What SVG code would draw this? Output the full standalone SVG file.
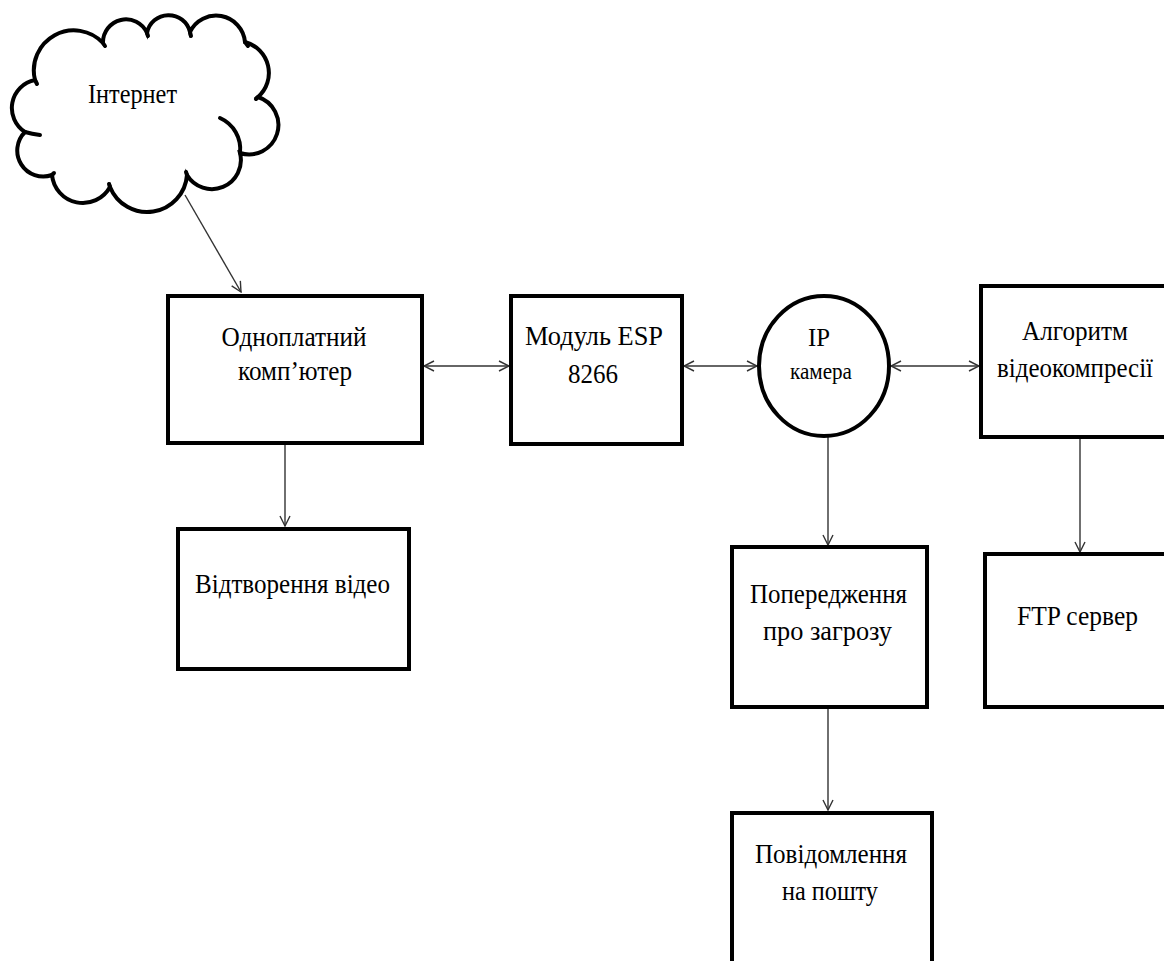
<svg xmlns="http://www.w3.org/2000/svg" width="1164" height="961" viewBox="0 0 1164 961">
  <style>
    .box { fill: #fff; stroke: #000; stroke-width: 4; }
    .cloud { fill: #fff; stroke: #000; stroke-width: 4; stroke-linecap: round; }
    .hook { fill: none; stroke: #000; stroke-width: 4; stroke-linecap: round; }
    .link { fill: none; stroke: #333; stroke-width: 1.4; }
    .lbl { font-family: "Liberation Serif", "Times New Roman", serif; font-size: 28px; fill: #000; text-anchor: middle; }
    .sm { font-size: 24px; }
  </style>
  <defs>
    <marker id="arrowEnd" viewBox="0 0 12 12" refX="11" refY="6" markerWidth="12" markerHeight="12" markerUnits="userSpaceOnUse" orient="auto">
      <path d="M1,1 L11,6 L1,11" fill="none" stroke="#333" stroke-width="1.4"/>
    </marker>
    <marker id="arrowStart" viewBox="0 0 12 12" refX="1" refY="6" markerWidth="12" markerHeight="12" markerUnits="userSpaceOnUse" orient="auto">
      <path d="M11,1 L1,6 L11,11" fill="none" stroke="#333" stroke-width="1.4"/>
    </marker>
  </defs>

  <rect width="1164" height="961" fill="#fff"/>

  <!-- connectors -->
  <g id="connectors">
    <line class="link" x1="185" y1="195" x2="241" y2="292" marker-end="url(#arrowEnd)"/>
    <line class="link" x1="424" y1="366" x2="509" y2="366" marker-start="url(#arrowStart)" marker-end="url(#arrowEnd)"/>
    <line class="link" x1="684" y1="366" x2="757" y2="366" marker-start="url(#arrowStart)" marker-end="url(#arrowEnd)"/>
    <line class="link" x1="891" y1="366" x2="979" y2="366" marker-start="url(#arrowStart)" marker-end="url(#arrowEnd)"/>
    <line class="link" x1="285" y1="445" x2="285" y2="526" marker-end="url(#arrowEnd)"/>
    <line class="link" x1="828" y1="437" x2="828" y2="545" marker-end="url(#arrowEnd)"/>
    <line class="link" x1="1080" y1="439" x2="1080" y2="552" marker-end="url(#arrowEnd)"/>
    <line class="link" x1="828" y1="709" x2="828" y2="810" marker-end="url(#arrowEnd)"/>
  </g>

  <!-- cloud -->
  <g id="internet">
    <path class="cloud" d="M35,80 A40,40 0 0 1 103,43 A23,23 0 0 1 147,33 A22,22 0 0 1 190,32 A29,29 0 0 1 245,42 A32,32 0 0 1 258,97 A29,29 0 0 1 240,153 A29,29 0 0 1 187,175 A40,40 0 0 1 110,187 A31,31 0 0 1 52,175 A26,26 0 0 1 25,132 A28.5,28.5 0 0 1 35,80 Z"/>
    <path class="hook" d="M220,118 A34,34 0 0 1 240,153"/>
    <path class="hook" d="M25,132 Q32,134 40,135"/>
    <path class="hook" d="M35,80 L37,84"/>
    <path class="hook" d="M103,43 L105,46"/>
    <path class="hook" d="M147,33 L148,36"/>
    <path class="hook" d="M190,32 L191,36"/>
    <path class="hook" d="M245,42 L248,46"/>
    <path class="hook" d="M258,97 L256,99"/>
    <path class="hook" d="M187,175 L186,172"/>
    <path class="hook" d="M110,187 L109,184"/>
    <path class="hook" d="M52,175 L54,173"/>
    <text class="lbl" x="132.5" y="103" textLength="89" lengthAdjust="spacingAndGlyphs">Інтернет</text>
  </g>

  <g id="sbc">
    <rect class="box" x="168" y="296" width="254" height="147"/>
    <text class="lbl" x="294" y="346" textLength="145" lengthAdjust="spacingAndGlyphs">Одноплатний</text>
    <text class="lbl" x="295" y="380" textLength="114" lengthAdjust="spacingAndGlyphs">комп’ютер</text>
  </g>

  <g id="esp">
    <rect class="box" x="511" y="296" width="171" height="148"/>
    <text class="lbl" x="594" y="345" textLength="138" lengthAdjust="spacingAndGlyphs">Модуль ESP</text>
    <text class="lbl" x="593" y="383" textLength="50" lengthAdjust="spacingAndGlyphs">8266</text>
  </g>

  <g id="camera">
    <ellipse class="box" cx="824" cy="366" rx="65" ry="70"/>
    <text class="lbl" x="819" y="346" style="font-size:26px" textLength="22" lengthAdjust="spacingAndGlyphs">IP</text>
    <text class="lbl sm" x="821" y="379" textLength="62" lengthAdjust="spacingAndGlyphs">камера</text>
  </g>

  <g id="compression">
    <rect class="box" x="981" y="286" width="200" height="151"/>
    <text class="lbl" x="1075" y="340" textLength="106" lengthAdjust="spacingAndGlyphs">Алгоритм</text>
    <text class="lbl" x="1075" y="377" textLength="156" lengthAdjust="spacingAndGlyphs">відеокомпресії</text>
  </g>

  <g id="playback">
    <rect class="box" x="178" y="529" width="231" height="140"/>
    <text class="lbl" x="292.5" y="593" textLength="195" lengthAdjust="spacingAndGlyphs">Відтворення відео</text>
  </g>

  <g id="warning">
    <rect class="box" x="732" y="547" width="195" height="160"/>
    <text class="lbl" x="828.5" y="603" textLength="157" lengthAdjust="spacingAndGlyphs">Попередження</text>
    <text class="lbl" x="827.5" y="640" textLength="129" lengthAdjust="spacingAndGlyphs">про загрозу</text>
  </g>

  <g id="ftp">
    <rect class="box" x="985" y="554" width="200" height="153"/>
    <text class="lbl" x="1077.5" y="625" textLength="121" lengthAdjust="spacingAndGlyphs">FTP сервер</text>
  </g>

  <g id="email">
    <rect class="box" x="732" y="813" width="200" height="170"/>
    <text class="lbl" x="831" y="863" textLength="152" lengthAdjust="spacingAndGlyphs">Повідомлення</text>
    <text class="lbl" x="830" y="900" textLength="96" lengthAdjust="spacingAndGlyphs">на пошту</text>
  </g>
</svg>
